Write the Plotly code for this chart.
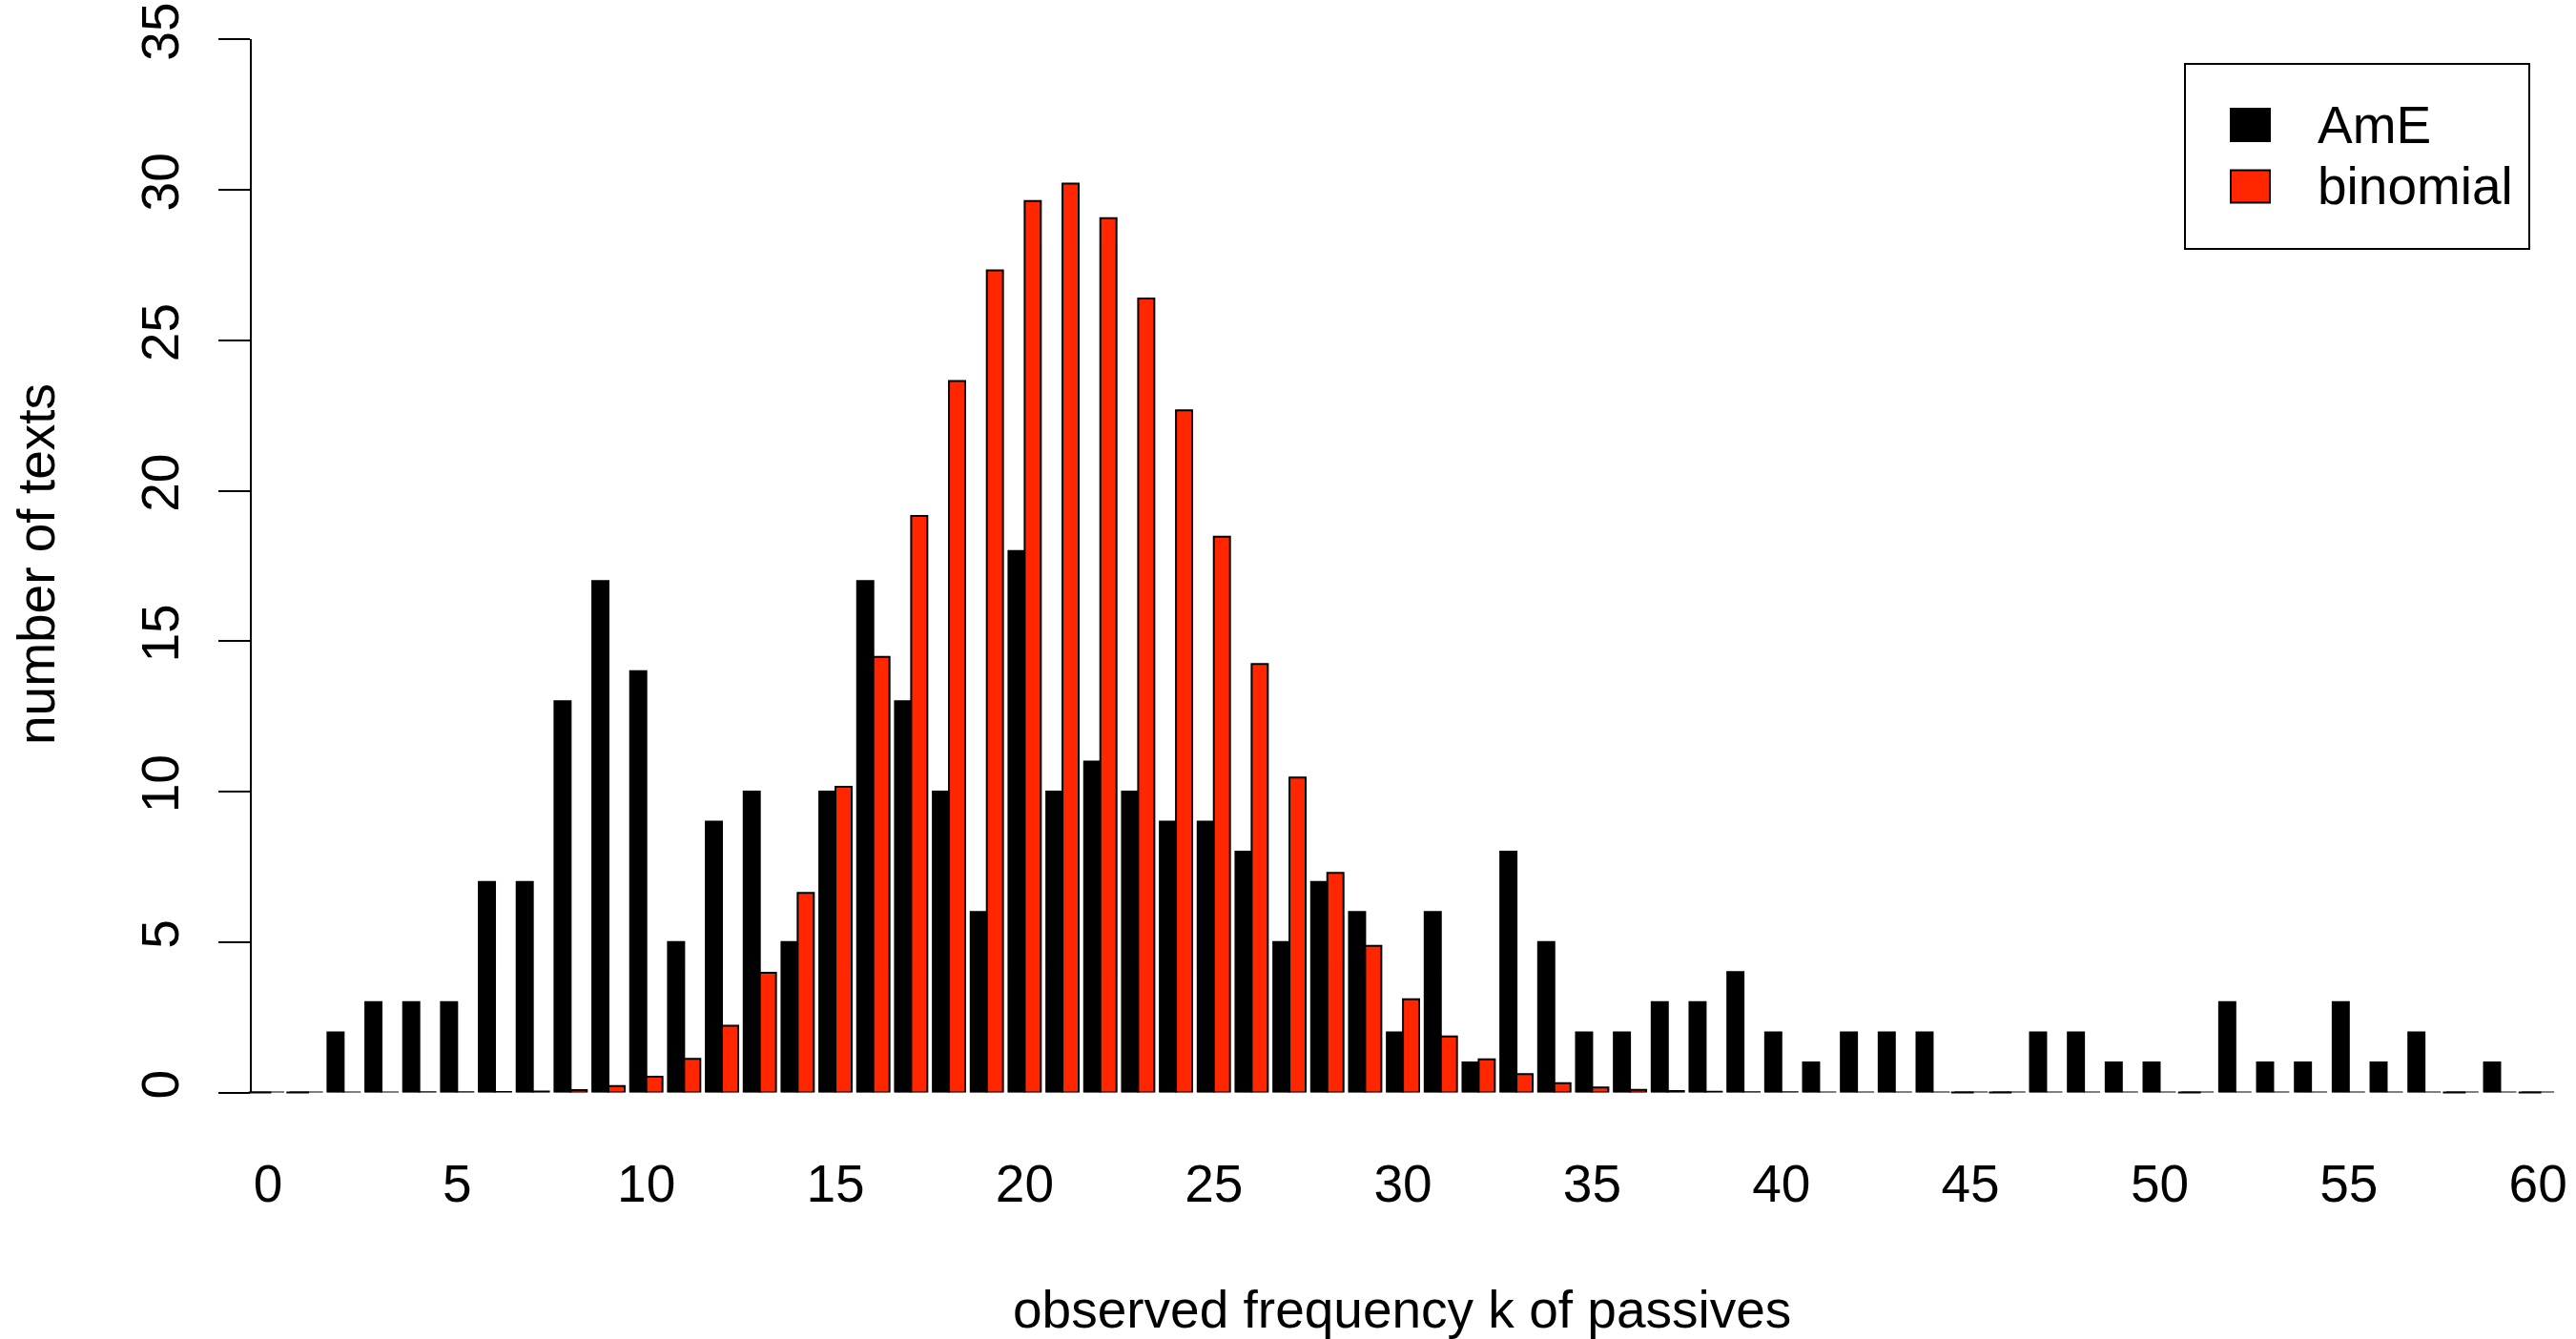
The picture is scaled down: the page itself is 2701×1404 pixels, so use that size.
import plotly.graph_objects as go

W, H = 2701, 1404

k_values = list(range(0, 61))
ame_counts = [0, 0, 2, 3, 3, 3, 7, 7, 13, 17, 14, 5, 9, 10, 5, 10, 17, 13, 10, 6, 18,
              10, 11, 10, 9, 9, 8, 5, 7, 6, 2, 6, 1, 8, 5, 2, 2, 3, 3, 4, 2,
              1, 2, 2, 2, 0, 0, 2, 2, 1, 1, 0, 3, 1, 1, 3, 1, 2, 0, 1, 0]
binomial_expected = [0.0001, 0.0003, 0.001, 0.002, 0.004, 0.008, 0.015, 0.03, 0.08, 0.21, 0.52,
                     1.12, 2.22, 3.98, 6.63, 10.16, 14.48, 19.16, 23.65, 27.32, 29.63,
                     30.21, 29.06, 26.39, 22.67, 18.47, 14.24, 10.47, 7.30, 4.87, 3.10,
                     1.86, 1.10, 0.61, 0.31, 0.17, 0.09, 0.05, 0.02, 0.01, 0.005,
                     0.003, 0.002, 0.001, 0.0005, 0.0003, 0.0002, 0.0001, 0.0001, 0.0001, 0.0001,
                     0.0001, 0.0001, 0.0001, 0.0001, 0.0001, 0.0001, 0.0001, 0.0001, 0.0001, 0.0001]
x_tick_labels = [str(v) for v in range(0, 61, 5)]
y_tick_labels = [str(v) for v in range(0, 36, 5)]
series_names = ["AmE", "binomial"]

BLACK = "#000000"
RED = "#FF2600"
FONT = "Liberation Sans, Arial, Helvetica, sans-serif"
FS = 55

bar_w = 0.4273

fig = go.Figure()
fig.add_trace(go.Bar(x=k_values, y=ame_counts, name=series_names[0],
                     offset=-bar_w, width=bar_w,
                     marker=dict(color=BLACK, line=dict(color=BLACK, width=2)),
                     cliponaxis=False, showlegend=False))
fig.add_trace(go.Bar(x=k_values, y=binomial_expected, name=series_names[1],
                     offset=0, width=bar_w,
                     marker=dict(color=RED, line=dict(color=BLACK, width=2)),
                     cliponaxis=False, showlegend=False))

# outlines of zero-height AmE bars (R draws their border as a flat line)
zero_k = [k - bar_w / 2 for k, c in zip(k_values, ame_counts) if c == 0]
fig.add_trace(go.Scatter(x=zero_k, y=[0] * len(zero_k), mode="markers",
                         marker=dict(symbol="line-ew", size=17,
                                     line=dict(color=BLACK, width=2)),
                         cliponaxis=False, showlegend=False, hoverinfo="skip"))

px0, px1 = 264, 2681
py_top, py_bot = 41.3, 1145.5

fig.update_layout(
    template="none",
    width=W, height=H,
    margin=dict(l=0, r=0, t=0, b=0, autoexpand=False),
    paper_bgcolor="white", plot_bgcolor="white",
    barmode="overlay",
    font=dict(family=FONT, size=FS, color="black"),
    xaxis=dict(domain=[px0 / W, px1 / W], range=[-0.4285, 60.5], automargin=False,
               showline=False, zeroline=False, showgrid=False, ticks="",
               tickvals=list(range(0, 61, 5)), ticktext=x_tick_labels,
               tickfont=dict(family=FONT, size=FS), ticklabelstandoff=58),
    yaxis=dict(domain=[(H - py_bot) / H, (H - py_top) / H], range=[0, 35], automargin=False,
               showline=True, linecolor="black", linewidth=2,
               zeroline=False, showgrid=False,
               ticks="outside", ticklen=33, tickwidth=2, tickcolor="black",
               tickvals=list(range(0, 36, 5)), ticktext=y_tick_labels,
               tickangle=-90, tickfont=dict(family=FONT, size=FS),
               ticklabelstandoff=20),
    showlegend=False,
)

# axis titles
fig.add_annotation(text="observed frequency k of passives", x=1470 / W, y=(H - 1373) / H,
                   xref="paper", yref="paper", showarrow=False,
                   xanchor="center", yanchor="middle", font=dict(family=FONT, size=FS))
fig.add_annotation(text="number of texts", x=38 / W, y=(H - 592) / H,
                   xref="paper", yref="paper", showarrow=False, textangle=-90,
                   xanchor="center", yanchor="middle", font=dict(family=FONT, size=FS))

# legend (drawn manually to match R's legend box)
fig.add_shape(type="rect", xref="paper", yref="paper",
              x0=2291 / W, x1=2652 / W, y0=(H - 261) / H, y1=(H - 67) / H,
              line=dict(color="black", width=2), fillcolor="white")
legend_colors = [BLACK, RED]
legend_centers = [131, 195.5]
for name, col, cy in zip(series_names, legend_colors, legend_centers):
    fig.add_shape(type="rect", xref="paper", yref="paper",
                  x0=2339 / W, x1=2380 / W, y0=(H - cy - 17) / H, y1=(H - cy + 17) / H,
                  line=dict(color="black", width=2), fillcolor=col)
    fig.add_annotation(text=name, x=2428 / W, y=(H - cy) / H, xref="paper", yref="paper",
                       showarrow=False, xanchor="left", yanchor="middle",
                       font=dict(family=FONT, size=FS))

fig.write_html("out.html")
